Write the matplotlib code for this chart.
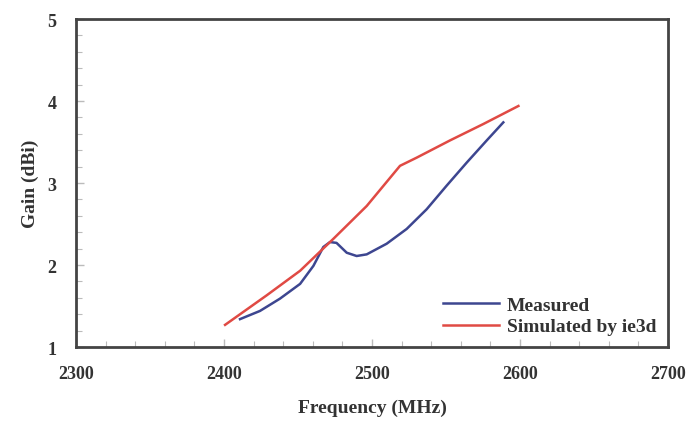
import numpy as np
import matplotlib
matplotlib.use("Agg")
import matplotlib.pyplot as plt
from matplotlib.ticker import MultipleLocator

# measured gain
meas_freq = [2410.8, 2424.3, 2437.8, 2451.4, 2460.4, 2467.1, 2471.6, 2476.0,
             2482.9, 2489.6, 2496.4, 2509.9, 2523.4, 2536.9, 2550.5, 2564.0,
             2577.5, 2588.7]
meas_gain = [1.34, 1.44, 1.59, 1.77, 1.99, 2.22, 2.28, 2.27,
             2.15, 2.11, 2.13, 2.26, 2.44, 2.68, 2.97, 3.25,
             3.52, 3.74]

# simulated (ie3d)
sim_freq = [2400.7, 2428.8, 2451.4, 2473.9, 2496.4, 2518.9, 2530.2, 2552.7,
            2575.2, 2598.9]
sim_gain = [1.27, 1.63, 1.93, 2.32, 2.72, 3.21, 3.31, 3.52, 3.72, 3.94]

x_ticks = [2300, 2400, 2500, 2600, 2700]
y_ticks = [1, 2, 3, 4, 5]

serif = ["Liberation Serif", "DejaVu Serif"]
plt.rcParams["font.family"] = serif
plt.rcParams["font.weight"] = "bold"

fig = plt.figure(figsize=(6.93, 4.27), dpi=100)
ax = fig.add_axes([0.1097, 0.185, 0.8543, 0.768])

ax.plot(meas_freq, meas_gain, color="#3d4690", lw=1.8, label="Measured")
ax.plot(sim_freq, sim_gain, color="#e04a44", lw=1.8, label="Simulated by ie3d")

ax.set_xlim(2300, 2700)
ax.set_ylim(1, 5)
ax.set_xticks(x_ticks)
ax.set_yticks(y_ticks)
ax.xaxis.set_minor_locator(MultipleLocator(20))
ax.yaxis.set_minor_locator(MultipleLocator(0.2))
ax.tick_params(which="both", direction="in", color="#bbbbbb")
ax.tick_params(which="major", length=6, width=1, labelsize=13,
               labelcolor="#333333")
ax.tick_params(which="minor", length=4, width=0.8)
ax.tick_params(axis="x", which="major", pad=13)
ax.tick_params(axis="y", which="major", pad=14)

for sp in ax.spines.values():
    sp.set_linewidth(2)
    sp.set_color("#444444")

ax.set_xlabel("Frequency (MHz)", fontweight="bold",
              fontsize=14, color="#333333", labelpad=12)
ax.set_ylabel("Gain (dBi)", fontweight="bold",
              fontsize=14, color="#333333", labelpad=6)

leg = ax.legend(loc="lower right", frameon=False, handlelength=2.9,
                handletextpad=0.4, borderaxespad=0.2, labelspacing=0.2,
                prop={"weight": "bold", "size": 14})
for t in leg.get_texts():
    t.set_color("#333333")

fig.savefig("out.png", dpi=100)
